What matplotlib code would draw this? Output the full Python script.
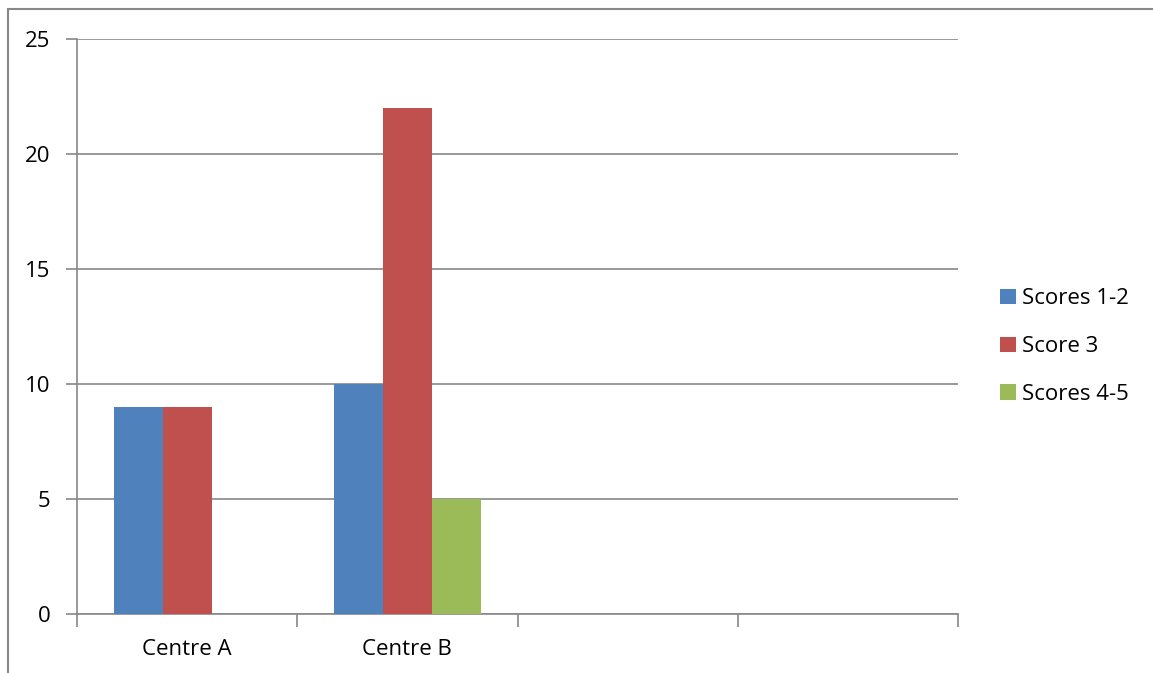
import numpy as np
import matplotlib.pyplot as plt
from matplotlib.patches import Rectangle

categories = ["Centre A", "Centre B", "", ""]
series = ["Scores 1-2", "Score 3", "Scores 4-5"]
scores_1_2 = [9, 10, 0, 0]
score_3 = [9, 22, 0, 0]
scores_4_5 = [0, 5, 0, 0]

colors = ["#4F81BD", "#C0504D", "#9BBB59"]
grey = "#888888"

plt.rcParams['font.family'] = ['Open Sans', 'DejaVu Sans']

fig = plt.figure(figsize=(11.53, 6.73), dpi=100)
ax = fig.add_axes([77 / 1153, 1 - 614 / 673, (958 - 77) / 1153, (614 - 39) / 673])

# outer chart border (only top and left visible)
fig.add_artist(Rectangle((8 / 1153, -0.1), 1.2, 1 - 9 / 673 + 0.1,
                         transform=fig.transFigure, fill=False,
                         edgecolor=grey, linewidth=1.5))

x = np.arange(len(categories))
w = 1 / 4.5
for i, (vals, name) in enumerate(zip([scores_1_2, score_3, scores_4_5], series)):
    ax.bar(x + (i - 1) * w, vals, width=w, color=colors[i], label=name, zorder=3)

ax.set_xlim(-0.5, len(categories) - 0.5)
ax.set_ylim(0, 25)
ax.set_yticks(range(0, 26, 5))
ax.yaxis.grid(True, color=grey, linewidth=1.2, zorder=0)

ax.set_xticks(np.arange(-0.5, len(categories), 1))
ax.set_xticklabels([])
ax.set_xticks(x, minor=True)
ax.set_xticklabels(categories, minor=True)
ax.tick_params(axis='x', which='minor', length=0, pad=18, labelsize=16)
ax.tick_params(axis='x', which='major', length=9, color=grey, width=1.2)
ax.tick_params(axis='y', length=8, color=grey, width=1.2, pad=11, labelsize=16)

for s in ["top", "right"]:
    ax.spines[s].set_visible(False)
for s in ["left", "bottom"]:
    ax.spines[s].set_color(grey)
    ax.spines[s].set_linewidth(1.2)

ax.legend(loc="center left", bbox_to_anchor=(1.025, 0.465), frameon=False,
          fontsize=16, handlelength=0.7, handleheight=0.7, labelspacing=1.2,
          handletextpad=0.3)

plt.savefig("out.png", dpi=100)
